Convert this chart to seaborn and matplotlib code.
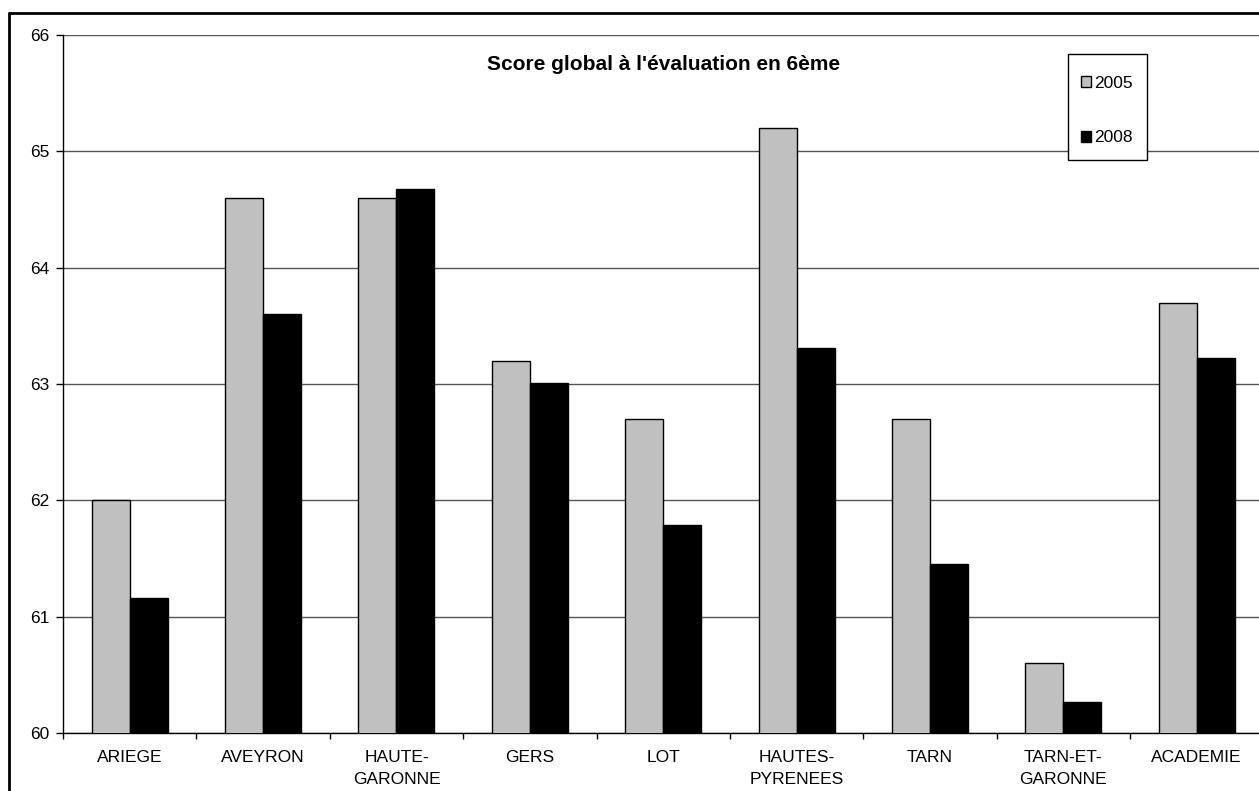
import numpy as np
import pandas as pd
import matplotlib
matplotlib.use("Agg")
import matplotlib.pyplot as plt
from matplotlib.lines import Line2D
from matplotlib.patches import Rectangle
from matplotlib.ticker import FixedLocator
import seaborn as sns

# data
departements = ["ARIEGE", "AVEYRON", "HAUTE-\nGARONNE", "GERS", "LOT",
                "HAUTES-\nPYRENEES", "TARN", "TARN-ET-\nGARONNE", "ACADEMIE"]
score_2005 = [62.0, 64.6, 64.6, 63.2, 62.7, 65.2, 62.7, 60.6, 63.7]
score_2008 = [61.16, 63.6, 64.68, 63.01, 61.79, 63.31, 61.45, 60.27, 63.22]
years = ["2005", "2008"]
title = "Score global à l'évaluation en 6ème"

df = pd.DataFrame({
    "departement": departements * 2,
    "annee": [years[0]] * len(departements) + [years[1]] * len(departements),
    "score": score_2005 + score_2008,
})

sns.set_theme(style="white")
plt.rcParams["font.family"] = ["Liberation Sans", "DejaVu Sans"]
plt.rcParams["text.color"] = "black"

W, H = 1259, 791
fig = plt.figure(figsize=(W / 100, H / 100), dpi=100)
# axes: left spine at x=63, y=60 at 733, y=66 at 35, category step ~133.4px
ax = fig.add_axes([63 / W, (H - 733) / H, 1200.4 / W, 698 / H])

sns.barplot(data=df, x="departement", y="score", hue="annee",
            palette={"2005": "#C0C0C0", "2008": "#000000"},
            width=0.57, gap=0, edgecolor="black", linewidth=1,
            errorbar=None, ax=ax, zorder=3)

ax.set_xlim(-0.5, len(departements) - 0.5)
ax.set_ylim(60, 66)
ax.set_yticks(np.arange(60, 67, 1))
ax.yaxis.grid(True, color="#555555", linewidth=1)
ax.set_axisbelow(True)
ax.set_xlabel("")
ax.set_ylabel("")

for side in ["top", "right"]:
    ax.spines[side].set_visible(False)
for side in ["left", "bottom"]:
    ax.spines[side].set_color("black")
    ax.spines[side].set_linewidth(1)

ax.tick_params(axis="x", which="major", length=0, pad=12, labelsize=12.5, colors="black")
for lbl in ax.get_xticklabels():
    lbl.set_linespacing(1.65)
    lbl.set_verticalalignment("top")
ax.xaxis.set_minor_locator(FixedLocator(np.arange(-0.5, len(departements), 1)))
ax.tick_params(axis="x", which="minor", direction="out", length=4, width=1, color="black", bottom=True)
ax.tick_params(axis="y", direction="out", length=5, width=1, pad=5, labelsize=12.5,
               colors="black", left=True)

fig.text(664 / W, 1 - 64 / H, title, ha="center", va="center",
         fontsize=15, fontweight="bold", color="black")

# legend entries without frame, box drawn separately (Excel-style tall box)
leg = ax.legend(loc="upper left", bbox_to_anchor=(1081 / W, 1 - 76 / H),
                bbox_transform=fig.transFigure, frameon=False,
                fontsize=12.5, labelspacing=2.27, handlelength=0.6, handleheight=0.6,
                handletextpad=0.15, borderpad=0, borderaxespad=0)
for t in leg.get_texts():
    t.set_color("black")
leg.set_zorder(6)
ax.add_patch(Rectangle((1068 / W, 1 - 160 / H), 79 / W, 106 / H,
                       transform=fig.transFigure, facecolor="white",
                       edgecolor="black", linewidth=1, zorder=5, clip_on=False))

# outer chart frame (only left and top edges are visible in the crop)
fig.add_artist(Line2D([8.5 / W, 8.5 / W], [0, 1 - 12.5 / H], transform=fig.transFigure,
                      color="black", linewidth=2))
fig.add_artist(Line2D([8.5 / W, 1], [1 - 12.5 / H, 1 - 12.5 / H], transform=fig.transFigure,
                      color="black", linewidth=2))

fig.savefig("out.png", dpi=100)
